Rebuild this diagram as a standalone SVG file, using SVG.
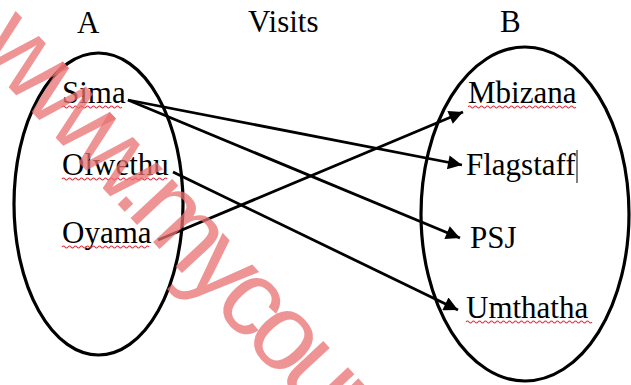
<svg xmlns="http://www.w3.org/2000/svg" width="631" height="385" viewBox="0 0 631 385">
<defs>
<style>
.lbl{font-family:"Liberation Serif","Times New Roman",serif;font-size:31px;fill:#000}
.set{fill:none;stroke:#000;stroke-width:3.2}
.edge{fill:none;stroke:#000;stroke-width:2.8}
.sq{fill:none;stroke:#e03040;stroke-width:1.1}
.wm{font-family:"Liberation Sans",Arial,sans-serif;font-size:108px;letter-spacing:-9px;fill:#ea7070;fill-opacity:0.75}
</style>
<marker id="ah" viewBox="0 0 10 10" refX="10" refY="5" markerWidth="6" markerHeight="5" markerUnits="strokeWidth" orient="auto">
<path d="M0,0 L10,5 L0,10 z" fill="#000"/>
</marker>
</defs>
<rect width="631" height="385" fill="#fff"/>
<text class="lbl" x="77" y="33">A</text>
<text class="lbl" x="248" y="32">Visits</text>
<text class="lbl" x="500" y="32">B</text>
<g id="setA">
<ellipse class="set" cx="98.5" cy="204" rx="84.5" ry="151"/>
</g>
<g id="setB">
<ellipse class="set" cx="525" cy="214" rx="104" ry="167"/>
</g>
<g id="connectors">
<line class="edge" x1="128" y1="100" x2="462" y2="165" marker-end="url(#ah)"/>
<line class="edge" x1="128" y1="100" x2="460" y2="238" marker-end="url(#ah)"/>
<line class="edge" x1="173" y1="172" x2="458" y2="310" marker-end="url(#ah)"/>
<line class="edge" x1="158" y1="240" x2="463" y2="112" marker-end="url(#ah)"/>
</g>
<g id="sima"><text class="lbl" x="62" y="103">Sima</text><path class="sq" d="M62,107 q1.5,-2 3,0 t3,0 t3,0 t3,0 t3,0 t3,0 t3,0 t3,0 t3,0 t3,0 t3,0 t3,0 t3,0 t3,0 t3,0 t3,0 t3,0 t3,0 t3,0 t3,0"/></g>
<g id="olwethu"><text class="lbl" x="62" y="175">Olwethu</text><path class="sq" d="M62,179 q1.5,-2 3,0 t3,0 t3,0 t3,0 t3,0 t3,0 t3,0 t3,0 t3,0 t3,0 t3,0 t3,0 t3,0 t3,0 t3,0 t3,0 t3,0 t3,0 t3,0 t3,0 t3,0 t3,0 t3,0 t3,0 t3,0 t3,0 t3,0 t3,0 t3,0 t3,0 t3,0 t3,0 t3,0 t3,0 t3,0"/></g>
<g id="oyama"><text class="lbl" x="62" y="243">Oyama</text><path class="sq" d="M62,247 q1.5,-2 3,0 t3,0 t3,0 t3,0 t3,0 t3,0 t3,0 t3,0 t3,0 t3,0 t3,0 t3,0 t3,0 t3,0 t3,0 t3,0 t3,0 t3,0 t3,0 t3,0 t3,0 t3,0 t3,0 t3,0 t3,0 t3,0 t3,0 t3,0 t3,0"/></g>
<g id="mbizana"><text class="lbl" x="468" y="103">Mbizana</text><path class="sq" d="M468,107 q1.5,-2 3,0 t3,0 t3,0 t3,0 t3,0 t3,0 t3,0 t3,0 t3,0 t3,0 t3,0 t3,0 t3,0 t3,0 t3,0 t3,0 t3,0 t3,0 t3,0 t3,0 t3,0 t3,0 t3,0 t3,0 t3,0 t3,0 t3,0 t3,0 t3,0 t3,0 t3,0 t3,0 t3,0 t3,0 t3,0 t3,0"/></g>
<g id="flagstaff"><text class="lbl" x="466" y="175">Flagstaff</text><line x1="577" y1="150" x2="577" y2="183" stroke="#000" stroke-width="1"/></g>
<g id="psj"><text class="lbl" x="470" y="248">PSJ</text></g>
<g id="umthatha"><text class="lbl" x="466" y="318">Umthatha</text><path class="sq" d="M466,322 q1.5,-2 3,0 t3,0 t3,0 t3,0 t3,0 t3,0 t3,0 t3,0 t3,0 t3,0 t3,0 t3,0 t3,0 t3,0 t3,0 t3,0 t3,0 t3,0 t3,0 t3,0 t3,0 t3,0 t3,0 t3,0 t3,0 t3,0 t3,0 t3,0 t3,0 t3,0 t3,0 t3,0 t3,0 t3,0 t3,0 t3,0 t3,0 t3,0 t3,0 t3,0 t3,0 t3,0"/></g>
<text class="wm" transform="translate(-26,50) rotate(47)">www.mycourses.co.za</text>
</svg>
